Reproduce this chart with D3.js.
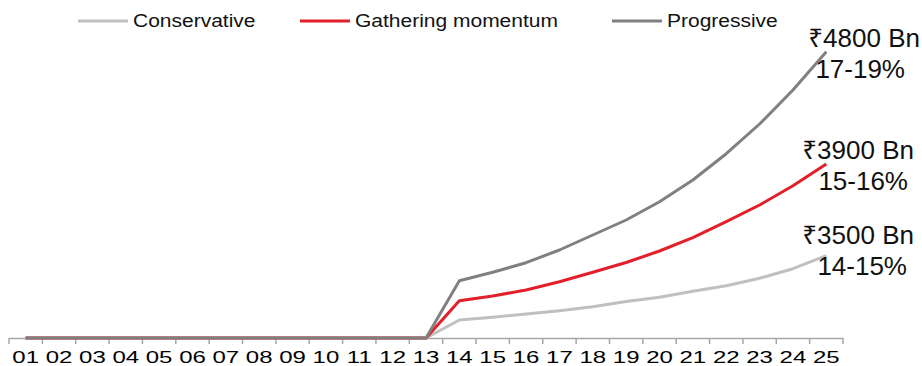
<!DOCTYPE html>
<html>
<head>
<meta charset="utf-8">
<script src="https://cdn.jsdelivr.net/npm/d3@7"></script>
<style>
  html, body { margin: 0; padding: 0; background: #fff; overflow: hidden; }
  svg { display: block; font-family: "Liberation Sans", Arial, "Noto Sans", sans-serif; }
</style>
</head>
<body>
<svg></svg>
<script>
// 1. DATA *******************************
const categories = ["01","02","03","04","05","06","07","08","09","10","11","12","13",
  "14","15","16","17","18","19","20","21","22","23","24","25"]

// index values (no y axis shown)
const conservative = [0,0,0,0,0,0,0,0,0,0,0,0,0,
  18, 20.7, 24, 27.3, 31.3, 36.5, 40.7, 46.7, 52.3, 59.7, 69.3, 82.3]
const gathering = [0,0,0,0,0,0,0,0,0,0,0,0,0,
  37.3, 42, 48, 56.3, 65.7, 75.5, 87, 100.3, 116.3, 133, 152.3, 174]
const progressive = [0,0,0,0,0,0,0,0,0,0,0,0,0,
  57.3, 65.7, 75.3, 88, 103, 118, 136.3, 158, 184.3, 214, 248, 286.3]

const seriesNames = ["Conservative", "Gathering momentum", "Progressive"]
const endLabels = [["₹3500 Bn", "14-15%"], ["₹3900 Bn", "15-16%"], ["₹4800 Bn", "17-19%"]]

const colors = ["#c0c0c0", "#e2202a", "#808080"]

// 2. CANVAS *******************************
const width = 922
const height = 366
const plot = { left: 9, right: 843, top: 38, bottom: 338 }

const svg = d3.select("svg")
  .attr("width", width)
  .attr("height", height)

// 3. SCALES *******************************
const xBand = d3.scaleBand()
  .domain(categories)
  .range([plot.left, plot.right])
  .padding(0)

const x = d => xBand(d) + xBand.bandwidth() / 2

const yScale = d3.scaleLinear()
  .domain([0, 300])
  .range([plot.bottom, plot.top])

// 4. X AXIS *******************************
const xAxis = svg.append("g")
  .attr("transform", `translate(0, ${plot.bottom})`)
  .call(d3.axisBottom(xBand).tickSize(0))

xAxis.select(".domain").attr("stroke", "#a6a6a6").attr("stroke-width", 1.5)
// labels are squat in the original (wide glyphs, short caps)
xAxis.selectAll("text")
  .attr("y", 0)
  .attr("dy", 0)
  .attr("transform", "translate(0, 24.5) scale(1, 0.66)")
  .attr("font-size", "24px")
  .attr("fill", "#000")
  .attr("font-family", "\"Liberation Sans\", Arial, sans-serif")

// ticks sit on band boundaries
xAxis.selectAll(".boundary")
  .data(d3.range(categories.length + 1))
  .enter().append("line")
  .classed("boundary", true)
  .attr("x1", i => plot.left + i * xBand.step())
  .attr("x2", i => plot.left + i * xBand.step())
  .attr("y1", 0)
  .attr("y2", 6)
  .attr("stroke", "#a6a6a6")
  .attr("stroke-width", 1.5)

// 5. LINES *******************************
const allSeries = [conservative, gathering, progressive]

const line = d3.line()
  .x((d, i) => x(categories[i]))
  .y(d => yScale(d))

svg.append("g")
  .selectAll("path")
  .data(allSeries)
  .enter().append("path")
  .attr("d", d => line(d))
  .attr("fill", "none")
  .attr("stroke", (d, i) => colors[i])
  .attr("stroke-width", 3)
  .attr("stroke-linejoin", "round")

// 6. END LABELS *******************************
const labelRight = [[914, 907], [914, 908], [920, 905]]
const labelTop = [244, 159, 47]

endLabels.forEach((lines, i) => {
  const g = svg.append("g")
  lines.forEach((t, j) => {
    g.append("text")
      .attr("x", labelRight[i][j])
      .attr("y", labelTop[i] + j * 31)
      .attr("text-anchor", "end")
      .attr("font-size", "26px")
      .attr("fill", "#111")
      .text(t)
  })
})

// 7. LEGEND *******************************
const legendX = [78, 300, 612]

const legend = svg.append("g")
  .selectAll("g")
  .data(seriesNames)
  .enter().append("g")
  .attr("transform", (d, i) => `translate(${legendX[i]}, 21)`)

legend.append("line")
  .attr("x1", 0)
  .attr("x2", 50)
  .attr("stroke", (d, i) => colors[i])
  .attr("stroke-width", 3)

legend.append("text")
  .attr("x", 55)
  .attr("y", 0)
  .attr("transform", "translate(0, 6) scale(1, 0.88)")
  .attr("font-size", "21px")
  .attr("fill", "#111")
  .text(d => d)
</script>
</body>
</html>
